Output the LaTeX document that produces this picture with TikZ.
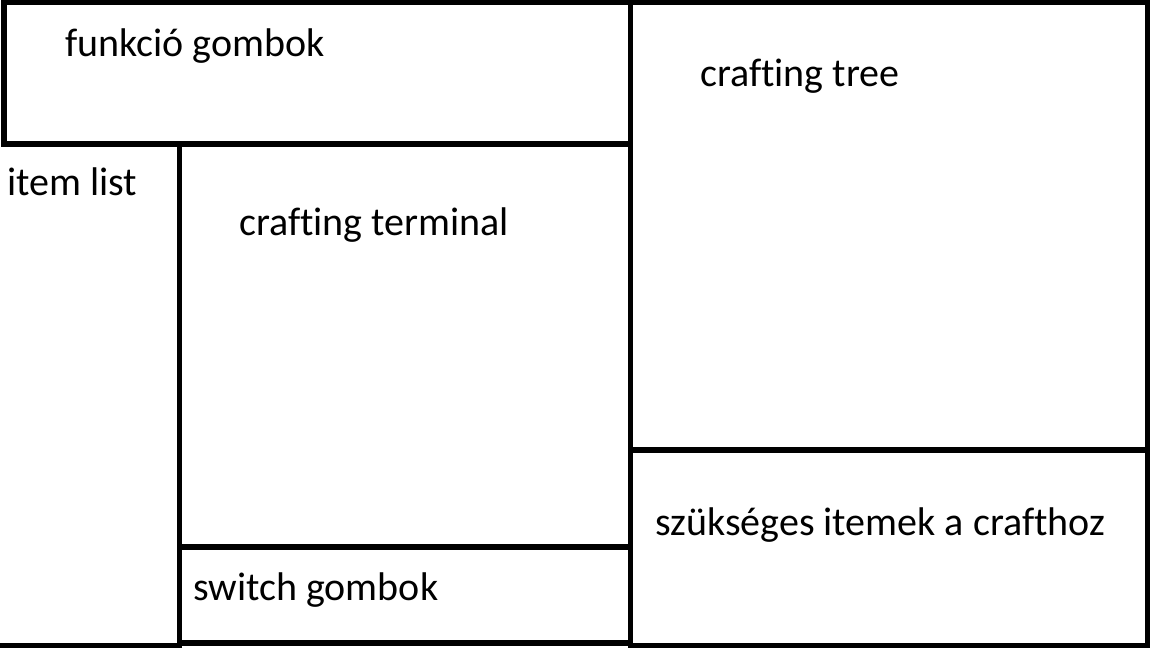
\documentclass[tikz,border=0pt]{standalone}
\usepackage{fontspec}
\setmainfont{Carlito}[Ligatures=NoCommon]
\begin{document}
\begin{tikzpicture}[x=1pt,y=-1pt,
  frame/.style={line width=5.5pt,line cap=rect,black},
  label/.style={anchor=base west,inner sep=0pt,font=\fontsize{40}{48}\selectfont}]
  % page area
  \fill[white] (0,0) rectangle (1152,648);
  \useasboundingbox (0,0) rectangle (1152,648);

  % panel outlines
  \draw[frame] (4,144) -- (4,2.5) -- (1147.5,2.5) -- (1147.5,645.5) -- (630.5,645.5);
  \draw[frame] (4,144) -- (630.5,144);
  \draw[frame] (630.5,2.5) -- (630.5,648);
  \draw[frame] (179.5,144) -- (179.5,648);
  \draw[frame] (0,645.5) -- (179.5,645.5);
  \draw[frame] (630.5,450) -- (1147.5,450);
  \draw[frame] (179.5,547) -- (630.5,547);
  \draw[frame] (179.5,643) -- (630.5,643);

  % panel captions
  \node[label] (funk) at (65,56) {funkció gombok};
  \node[label] (items) at (7,195) {item list};
  \node[label] (term) at (239,235) {crafting terminal};
  \node[label] (tree) at (700,86) {crafting tree};
  \node[label] (need) at (655,535) {szükséges itemek a crafthoz};
  \node[label] (switch) at (193,600) {switch gombok};
\end{tikzpicture}
\end{document}
